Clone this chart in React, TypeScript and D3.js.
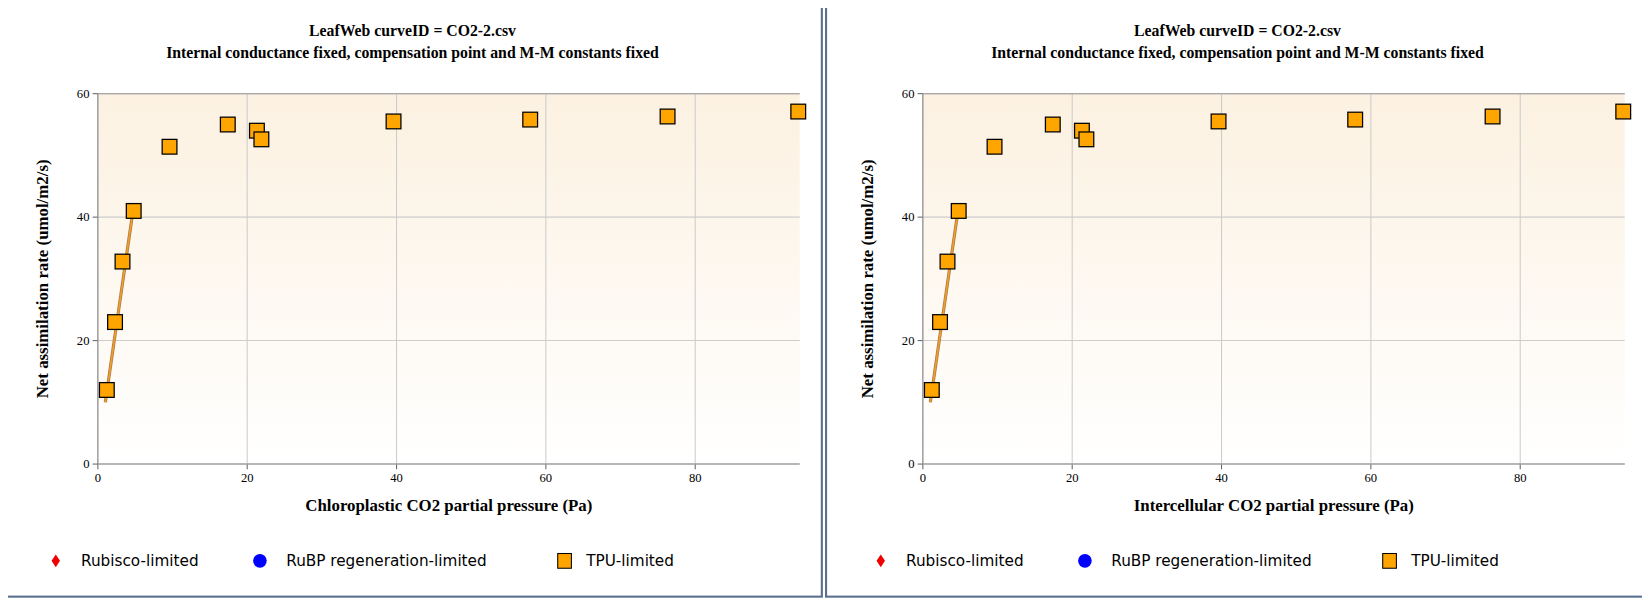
import React from "react";
import * as d3 from "d3";

const ciValues = [1.2, 2.3, 3.3, 4.8, 9.6, 17.4, 21.3, 21.9, 39.6, 57.9, 76.3, 93.8];
const aValues = [12, 23, 32.8, 41, 51.4, 55, 54, 52.6, 55.5, 55.8, 56.3, 57.1];
const fitX = [1.0, 4.7];
const fitY = [10, 41];
const xTicks = [0, 20, 40, 60, 80];
const yTicks = [0, 20, 40, 60];
const xLabels = ["Chloroplastic CO2 partial pressure (Pa)", "Intercellular CO2 partial pressure (Pa)"];
const legendItems = ["Rubisco-limited", "RuBP regeneration-limited", "TPU-limited"];

const W = 782, H = 568;
const L = 93, R = 760, T = 89, B = 441;

function Panel({ xl, ox, idx }: { xl: string; ox: number; idx: number }) {
  const x = d3.scaleLinear().domain([0, 94]).range([L, R]);
  const y = d3.scaleLinear().domain([0, 60]).range([B, T]);
  const line = d3.line<number>().x((_, i) => x(fitX[i])).y((_, i) => y(fitY[i]));
  const gid = "bg" + idx;
  return (
    <g transform={`translate(${ox},0)`}>
      <rect x={1} y={1} width={W - 2} height={H - 2} fill="#fff" stroke="#5a7090" strokeWidth={2} />
      <defs>
        <linearGradient id={gid} x1="0" y1="0" x2="0" y2="1">
          <stop offset="0" stopColor="#fcf1e1" />
          <stop offset="1" stopColor="#ffffff" />
        </linearGradient>
      </defs>
      <rect x={L} y={T} width={R - L} height={B - T} fill={`url(#${gid})`} />
      <text x={392} y={34} textAnchor="middle" fontFamily="Liberation Serif" fontWeight="bold" fontSize={15}>LeafWeb curveID = CO2-2.csv</text>
      <text x={392} y={55} textAnchor="middle" fontFamily="Liberation Serif" fontWeight="bold" fontSize={15}>Internal conductance fixed, compensation point and M-M constants fixed</text>
      {xTicks.map(t => (
        <g key={"x" + t}>
          <line x1={x(t)} x2={x(t)} y1={T} y2={B} stroke="#ccc" />
          <line x1={x(t)} x2={x(t)} y1={B} y2={B + 5} stroke="#666" />
          <text x={x(t)} y={B + 17} textAnchor="middle" fontFamily="Liberation Serif" fontSize={12}>{t}</text>
        </g>
      ))}
      {yTicks.map(t => (
        <g key={"y" + t}>
          <line x1={L} x2={R} y1={y(t)} y2={y(t)} stroke="#ccc" />
          <line x1={L - 5} x2={L} y1={y(t)} y2={y(t)} stroke="#666" />
          <text x={L - 8} y={y(t) + 4} textAnchor="end" fontFamily="Liberation Serif" fontSize={12}>{t}</text>
        </g>
      ))}
      <line x1={L} x2={R} y1={T} y2={T} stroke="#999" />
      <line x1={L} x2={L} y1={T} y2={B} stroke="#888" />
      <line x1={L} x2={R} y1={B} y2={B} stroke="#888" />
      <text x={(L + R) / 2} y={486} textAnchor="middle" fontFamily="Liberation Serif" fontWeight="bold" fontSize={16}>{xl}</text>
      <text transform={`translate(46,${(T + B) / 2}) rotate(-90)`} textAnchor="middle" fontFamily="Liberation Serif" fontWeight="bold" fontSize={16}>Net assimilation rate (umol/m2/s)</text>
      <path d={line([0, 1]) || ""} stroke="#b07a50" strokeWidth={3} fill="none" />
      <path d={line([0, 1]) || ""} stroke="#f0a020" strokeWidth={1.5} fill="none" />
      {ciValues.map((c, i) => (
        <rect key={i} x={x(c) - 7} y={y(aValues[i]) - 7} width={14} height={14} fill="#ffa500" stroke="#000" strokeWidth={1.2} />
      ))}
      <g fontFamily="DejaVu Sans" fontSize={14.5}>
        <path d="M53,527 L57,533 L53,539 L49,533 Z" fill="#e00" />
        <text x={77} y={538}>{legendItems[0]}</text>
        <circle cx={247} cy={533} r={6.5} fill="#00f" />
        <text x={272} y={538}>{legendItems[1]}</text>
        <rect x={530} y={526} width={13} height={14} fill="#ffa500" stroke="#000" />
        <text x={557} y={538}>{legendItems[2]}</text>
      </g>
    </g>
  );
}

export default function App() {
  const k = 1650 / 1568;
  return (
    <svg width={1650} height={600} style={{ display: "block", margin: "-8px 0 0 -8px" }}>
      <g transform={`scale(${k})`}>
        <Panel xl={xLabels[0]} ox={0} idx={0} />
        <Panel xl={xLabels[1]} ox={784} idx={1} />
      </g>
    </svg>
  );
}
